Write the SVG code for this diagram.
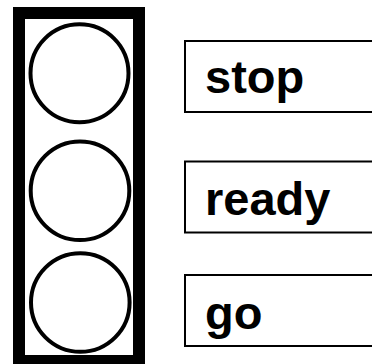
<svg xmlns="http://www.w3.org/2000/svg" width="372" height="364" viewBox="0 0 372 364">
<style>
.frame{fill:none;stroke:#000;stroke-width:12}
.lamp{fill:#fff;stroke:#000;stroke-width:4}
.box{fill:#fff;stroke:#000;stroke-width:2}
.lbl{font-family:"Liberation Sans",Arial,sans-serif;font-weight:bold;font-size:47px;fill:#000}
</style>
<rect width="372" height="364" fill="#fff"/>
<g id="housing">
<rect class="frame" x="19" y="13" width="120" height="348"/>
</g>
<g id="light-stop"><circle class="lamp" cx="79.5" cy="73.3" r="49"/></g>
<g id="light-ready"><circle class="lamp" cx="80" cy="190.7" r="49.3"/></g>
<g id="light-go"><circle class="lamp" cx="80.3" cy="302.5" r="49.3"/></g>
<g id="connectors"></g>
<g id="label-stop">
<rect class="box" x="185" y="41" width="200" height="71"/>
<text class="lbl" x="205" y="93.3">stop</text>
</g>
<g id="label-ready">
<rect class="box" x="185" y="161.5" width="200" height="71"/>
<text class="lbl" x="205" y="215.3">ready</text>
</g>
<g id="label-go">
<rect class="box" x="185" y="275" width="200" height="71"/>
<text class="lbl" x="205" y="328.7">go</text>
</g>
</svg>
